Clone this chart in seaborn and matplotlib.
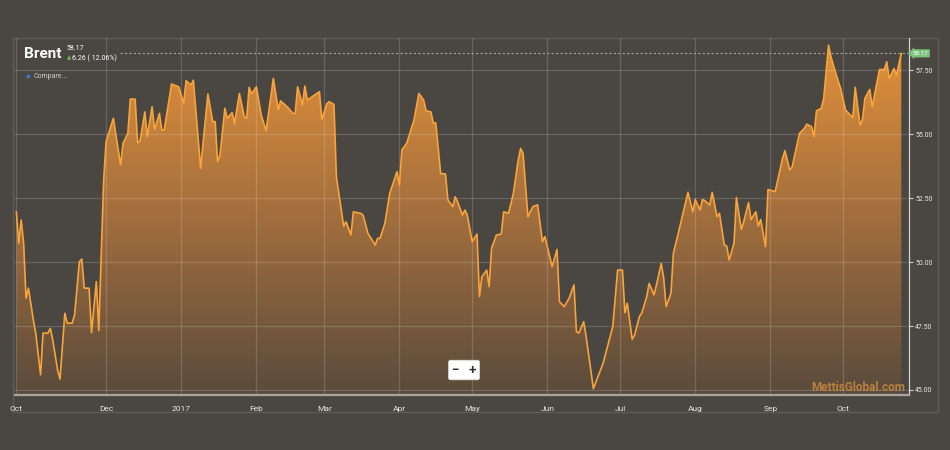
import numpy as np
import pandas as pd
import matplotlib.pyplot as plt
import matplotlib.patches as mpatches
from matplotlib.colors import LinearSegmentedColormap
import seaborn as sns

# Brent daily closes (days counted from 25 Oct 2016)
start_date = '2016-10-25'
day_offset = [0, 1, 2, 3, 4, 5, 7, 8, 10, 11, 13, 14, 15, 17, 18, 20, 21, 23, 24, 26, 27, 28, 30, 31, 33, 34,
              36, 37, 40, 43, 44, 46, 47, 49, 50, 51, 53, 54, 56, 57, 59, 60, 61, 64, 67, 69, 70, 72, 73, 76,
              79, 81, 82, 83, 84, 86, 87, 89, 90, 92, 94, 95, 96, 97, 99, 101, 103, 106, 108, 109, 112, 114,
              115, 116, 118, 119, 120, 125, 126, 128, 129, 131, 132,
              135, 136, 138, 139, 142, 143, 145, 148, 149, 150, 152, 154, 157, 158, 159, 161, 164, 166, 168,
              169, 171, 172, 173, 175, 177, 178, 180, 181, 182, 184, 185, 186, 188, 190, 191, 192, 194, 195,
              196, 198, 200, 201, 203, 205, 207, 208, 209, 211, 213, 215, 217, 218, 221, 223, 224, 226, 228,
              230, 231, 232, 234, 235, 238,
              242, 246, 248, 250, 251, 252, 254, 255, 257, 258, 260, 261, 263, 264, 266, 267, 268, 270, 271,
              273, 274, 277, 279, 280, 282, 283, 284, 286, 287, 289, 290, 292, 293, 294, 296, 297, 299, 300,
              302, 303, 305, 306, 307, 309, 310, 313, 316, 317, 319, 320, 323, 325, 326, 328, 329, 330, 332,
              333, 335, 336, 338, 340, 342, 345, 346, 348, 349, 350, 352, 353, 356, 358, 359, 360, 362, 363, 365]
brent_close = [51.97, 50.74, 51.65, 50.74, 48.59, 48.98, 47.74, 47.22, 45.59, 47.22, 47.22, 47.41, 46.96,
               45.78, 45.42, 48.00, 47.61, 47.61, 47.93, 50.02, 50.12, 48.98, 48.98, 47.24, 49.24, 47.32,
               53.20, 54.71, 55.63, 53.80, 54.65, 55.04, 56.38, 56.38, 54.67, 54.74, 55.88, 54.91, 56.08,
               55.19, 55.82, 55.17, 55.17, 56.97, 56.86, 56.21, 57.10, 56.93, 57.12, 53.67, 56.58, 55.50,
               55.50, 53.93, 54.19, 56.02, 55.63, 55.85, 55.43, 56.60, 55.69, 55.63, 56.84, 56.58, 56.86,
               55.76, 55.14, 57.19, 55.97, 56.31, 56.05, 55.82, 55.82, 56.86, 56.15, 56.89, 56.34, 56.67,
               55.59, 56.19, 56.28, 56.17, 53.34,
               51.41, 51.58, 51.06, 51.97, 51.91, 51.84, 51.13, 50.67, 50.93, 50.93, 51.52, 52.69, 53.54,
               53.02, 54.39, 54.65, 55.56, 56.60, 56.34, 55.92, 55.88, 55.43, 55.45, 53.47, 53.45, 52.43,
               52.17, 52.56, 52.36, 51.84, 52.04, 51.84, 50.80, 51.10, 48.65, 49.43, 49.69, 49.04, 50.54,
               51.06, 51.10, 51.97, 51.91, 52.69, 54.00, 54.45, 54.25, 51.78, 52.17, 52.24, 50.80, 51.00,
               49.82, 50.50, 48.45, 48.26, 48.59, 49.11, 47.28, 47.22, 47.67, 47.08, 45.05,
               46.04, 47.48, 49.69, 49.69, 48.02, 48.39, 46.98, 47.15, 47.87, 48.02, 48.65, 49.17, 48.72,
               49.11, 49.95, 49.37, 48.26, 48.78, 50.35, 51.13, 51.52, 52.73, 51.97, 52.45, 52.04, 52.45,
               52.40, 52.24, 52.73, 51.78, 51.91, 50.67, 50.63, 50.08, 50.74, 52.53, 51.28, 51.58, 52.33,
               51.67, 51.97, 51.41, 51.67, 50.60, 52.84, 52.76, 54.06, 54.36, 53.60, 53.73, 55.04, 55.23,
               55.40, 55.30, 54.91, 55.92, 56.02, 56.41, 58.49, 58.03, 57.38, 56.79, 55.95, 55.66, 56.84,
               55.36, 55.59, 56.41, 56.76, 56.08, 57.54, 57.54, 57.84, 57.19, 57.58, 57.32, 58.17]

month_ticks = ['2016-10-25', '2016-12-01', '2017-01-01', '2017-02-01', '2017-03-01', '2017-04-01',
               '2017-05-01', '2017-06-01', '2017-07-01', '2017-08-01', '2017-09-01', '2017-10-01']
month_labels = ['Oct', 'Dec', '2017', 'Feb', 'Mar', 'Apr', 'May', 'Jun', 'Jul', 'Aug', 'Sep', 'Oct']
price_ticks = [45.0, 47.5, 50.0, 52.5, 55.0, 57.5]
last_price = 58.17
change = 6.26
change_pct = 12.06

df = pd.DataFrame({'date': pd.Timestamp(start_date) + pd.to_timedelta(day_offset, unit='D'),
                   'close': brent_close})

bg = '#4a4642'
sns.set_theme(style='dark', rc={'axes.facecolor': bg, 'figure.facecolor': bg})
plt.rcParams['font.family'] = ['Roboto', 'DejaVu Sans']

fig = plt.figure(figsize=(9.5, 4.5), dpi=100)
fig.patch.set_facecolor(bg)
ax = fig.add_axes([0.0153, 0.1222, 0.9416, 0.7933])
ax.set_facecolor(bg)

ybot, ytop = 44.8, 58.77
x_left = pd.Timestamp(start_date) - pd.Timedelta(hours=18)
x_right = pd.Timestamp(start_date) + pd.Timedelta(days=368.2)

# area with a vertical orange gradient
area = ax.fill_between(df['date'], df['close'], ybot, color='none', lw=0)
grad = np.linspace(0, 1, 256).reshape(-1, 1)
cmap = LinearSegmentedColormap.from_list('brent', ['#5a4b3c', '#a26e3e', '#e4923a'])
xl = ax.get_xlim()
im = ax.imshow(grad, cmap=cmap, aspect='auto', origin='lower', zorder=1,
               extent=[xl[0] - 50, xl[1] + 50, ybot, ytop])
im.set_clip_path(area.get_paths()[0], transform=ax.transData)

sns.lineplot(data=df, x='date', y='close', ax=ax, color='#f9a43a', lw=1.2, zorder=3)

ax.set_xlim(x_left, x_right)
ax.set_ylim(ybot, ytop)

# grid
for p in price_ticks:
    ax.axhline(p, color='white', alpha=0.16, lw=0.9, zorder=2)
for d in month_ticks:
    ax.axvline(pd.Timestamp(d), color='white', alpha=0.16, lw=0.9, zorder=2)

ax.axhline(last_price, xmin=0.118, color='#a8a39d', lw=0.8, ls=(0, (2, 2)), zorder=2)

ax.set_xticks(pd.to_datetime(month_ticks))
ax.set_xticklabels(month_labels)
ax.set_yticks(price_ticks)
ax.set_yticklabels([f'{p:.2f}' for p in price_ticks])
ax.yaxis.tick_right()
ax.tick_params(axis='x', colors='#a9a49e', labelcolor='#e8e4df', labelsize=6, length=3, width=0.8,
               direction='out', pad=5)
ax.tick_params(axis='y', colors='#d6d2cc', labelcolor='#e8e4df', labelsize=5, length=3, width=0.8,
               direction='out', pad=1.5)
ax.set_xlabel('')
ax.set_ylabel('')
for s in ['top', 'left']:
    ax.spines[s].set_visible(False)
ax.spines['bottom'].set_color('#a9a49e')
ax.spines['bottom'].set_linewidth(1.6)
ax.spines['right'].set_color('#d6d2cc')
ax.spines['right'].set_linewidth(0.9)

# last price flag
ax.text(1.004, last_price, f'{last_price:.2f}', transform=ax.get_yaxis_transform(), fontsize=4.5,
        color='white', va='center', ha='left', zorder=5,
        bbox=dict(boxstyle='larrow,pad=0.25', fc='#7cc47b', ec='none'))

# watermark and zoom buttons
ax.text(0.9955, 0.02, 'MettisGlobal.com', transform=ax.transAxes, ha='right', va='center',
        fontsize=8.5, fontweight='bold', color='#c98a3c', alpha=0.85, zorder=4)
ax.text(0.5025, 0.07, '\u2212   +', transform=ax.transAxes, ha='center', va='center', fontsize=9.5,
        fontweight='bold', color='#333333', zorder=5,
        bbox=dict(boxstyle='round,pad=0.25,rounding_size=0.15', fc='white', ec='#dddddd', lw=0.5))

# panel frame
fig.patches.append(mpatches.Rectangle((13 / 950, 1 - 412 / 450), 925 / 950, 374 / 450,
                                      transform=fig.transFigure, fill=False,
                                      ec=(1, 1, 1, 0.12), lw=1))

# header
title = fig.text(24 / 950, 1 - 58 / 450, 'Brent', fontsize=11, fontweight='bold', color='white',
                 family=['Roboto', 'DejaVu Sans'], va='baseline')
fig.canvas.draw()
tx = title.get_window_extent().x1 / fig.bbox.width + 5 / 950
fig.text(tx, 1 - 48 / 450, f'{last_price:.2f}', fontsize=5, color='white', va='center')
fig.text(tx, 1 - 58 / 450, '\u25b2', fontsize=4, color='#6cc04a', va='center',
         family=['DejaVu Sans'])
fig.text(tx + 6 / 950, 1 - 58 / 450, f'{change:.2f} ( {change_pct:.2f}%)', fontsize=5, color='white',
         va='center')
fig.text(26 / 950, 1 - 77 / 450, '\u25c6', fontsize=4.5, color='#3c7fd8', va='center',
         family=['DejaVu Sans'])
fig.text(34 / 950, 1 - 77 / 450, 'Compare...', fontsize=5, color='#cfcac4', va='center')

fig.savefig('out.png', dpi=100, facecolor=bg)
